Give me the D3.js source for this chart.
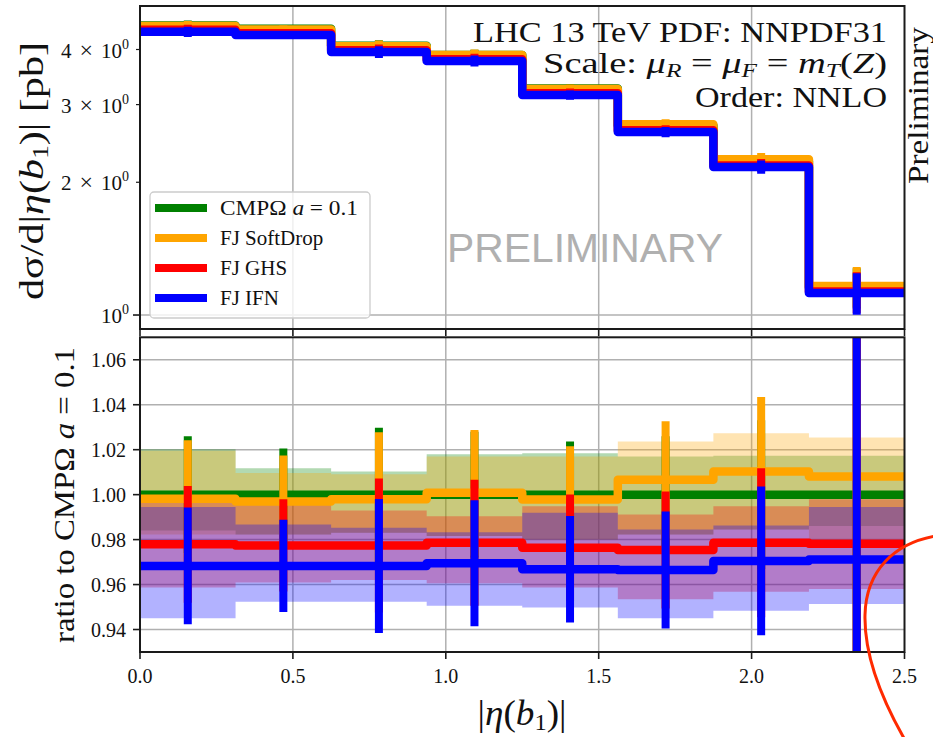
<!DOCTYPE html>
<html>
<head>
<meta charset="utf-8">
<script src="https://cdn.jsdelivr.net/npm/d3@7"></script>
<style>
  html, body { margin: 0; padding: 0; background: #fff; }
  svg { display: block; }
  text { font-family: "Liberation Serif", "Times New Roman", serif; fill: #111; }
</style>
</head>
<body>
<svg id="chart" width="933" height="737"></svg>
<script>
// ---------------- DATA ----------------
const binEdges = [0, 0.3125, 0.625, 0.9375, 1.25, 1.5625, 1.875, 2.1875, 2.5];
const seriesNames = ["CMPΩ a = 0.1", "FJ SoftDrop", "FJ GHS", "FJ IFN"];
const seriesColors = ["#008000", "#ffa500", "#ff0000", "#0000ff"];

// differential cross section [pb]
const xsCMP      = [4.533, 4.455, 4.077, 3.886, 3.262, 2.690, 2.232, 1.155];
const xsSoftDrop = [4.525, 4.441, 4.069, 3.889, 3.255, 2.708, 2.255, 1.164];
const xsGHS      = [4.433, 4.354, 3.985, 3.803, 3.185, 2.624, 2.184, 1.130];
const xsIFN      = [4.389, 4.314, 3.948, 3.767, 3.154, 2.600, 2.166, 1.122];
const xsErr      = [0.118, 0.091, 0.122, 0.109, 0.077, 0.070, 0.074, 0.121];

// ratio to CMPΩ a = 0.1
const ratioCMP      = [1.0000, 1.0000, 1.0000, 1.0000, 1.0000, 1.0000, 1.0000, 1.0000];
const ratioSoftDrop = [0.9982, 0.9969, 0.9980, 1.0008, 0.9978, 1.0066, 1.0103, 1.0081];
const ratioGHS      = [0.9779, 0.9774, 0.9774, 0.9786, 0.9764, 0.9754, 0.9786, 0.9782];
const ratioIFN      = [0.9683, 0.9683, 0.9683, 0.9695, 0.9668, 0.9665, 0.9705, 0.9712];
const ratioErr      = [0.0260, 0.0205, 0.0298, 0.0280, 0.0237, 0.0260, 0.0331, 0.1050];

// scale-variation bands in the ratio panel
const bandCMPLo      = [0.9840, 0.9823, 0.9830, 0.9816, 0.9800, 0.9823, 0.9845, 0.9860];
const bandCMPHi      = [1.0202, 1.0118, 1.0103, 1.0180, 1.0184, 1.0170, 1.0173, 1.0173];
const bandSoftDropLo = [0.9823, 0.9823, 0.9830, 0.9816, 0.9800, 0.9823, 0.9845, 0.9800];
const bandSoftDropHi = [1.0195, 1.0096, 1.0091, 1.0170, 1.0170, 1.0236, 1.0273, 1.0254];
const bandGHSLo      = [0.9587, 0.9609, 0.9620, 0.9606, 0.9587, 0.9535, 0.9568, 0.9580];
const bandGHSHi      = [0.9963, 0.9980, 0.9930, 0.9904, 0.9948, 0.9912, 0.9948, 0.9980];
const bandIFNLo      = [0.9450, 0.9523, 0.9523, 0.9506, 0.9498, 0.9450, 0.9484, 0.9513];
const bandIFNHi      = [0.9945, 0.9867, 0.9853, 0.9833, 0.9919, 0.9845, 0.9863, 0.9945];

const xTicks = [0.0, 0.5, 1.0, 1.5, 2.0, 2.5];
const xTickLabels = ["0.0", "0.5", "1.0", "1.5", "2.0", "2.5"];
const topMajorTicks = [1];
const topMinorTicks = [2, 3, 4];
const topMinorLabels = ["2", "3", "4"];
const ratioTicks = [0.94, 0.96, 0.98, 1.00, 1.02, 1.04, 1.06];
const ratioTickLabels = ["0.94", "0.96", "0.98", "1.00", "1.02", "1.04", "1.06"];

// ---------------- LAYOUT ----------------
const L = 140, R = 904.5;
const topT = 6, topB = 329;
const botT = 337.3, botB = 652;
const LW = 8.5;

const svg = d3.select("#chart");
svg.append("rect").attr("width", 933).attr("height", 737).attr("fill", "#fff");

const x = d3.scaleLinear().domain([0, 2.5]).range([L, R]);
const yTop = d3.scaleLog().domain([0.9296, 5.02]).range([topB, topT]);
const yBot = d3.scaleLinear().domain([0.93, 1.07]).range([botB, botT]);

const defs = svg.append("defs");
defs.append("clipPath").attr("id", "clipTop").append("rect")
  .attr("x", L).attr("y", topT).attr("width", R - L).attr("height", topB - topT);
defs.append("clipPath").attr("id", "clipBot").append("rect")
  .attr("x", L).attr("y", botT).attr("width", R - L).attr("height", botB - botT);

const gridColor = "#b0b0b0";

// ---------------- GRID ----------------
const gTopGrid = svg.append("g");
gTopGrid.selectAll("line.v").data(xTicks.slice(1, -1)).join("line")
  .attr("x1", d => x(d)).attr("x2", d => x(d)).attr("y1", topT).attr("y2", topB)
  .attr("stroke", gridColor).attr("stroke-width", 1.5);
gTopGrid.selectAll("line.h").data(topMajorTicks).join("line")
  .attr("x1", L).attr("x2", R).attr("y1", d => yTop(d)).attr("y2", d => yTop(d))
  .attr("stroke", gridColor).attr("stroke-width", 1.5);

const gBotGrid = svg.append("g");
gBotGrid.selectAll("line.v").data(xTicks.slice(1, -1)).join("line")
  .attr("x1", d => x(d)).attr("x2", d => x(d)).attr("y1", botT).attr("y2", botB)
  .attr("stroke", gridColor).attr("stroke-width", 1.5);
gBotGrid.selectAll("line.h").data(ratioTicks).join("line")
  .attr("x1", L).attr("x2", R).attr("y1", d => yBot(d)).attr("y2", d => yBot(d))
  .attr("stroke", gridColor).attr("stroke-width", 1.5);

// ---------------- HELPERS ----------------
function stepPoints(vals) {
  const pts = [];
  vals.forEach((v, i) => { pts.push([binEdges[i], v]); pts.push([binEdges[i + 1], v]); });
  return pts;
}
const centers = binEdges.slice(0, -1).map((e, i) => (e + binEdges[i + 1]) / 2);

// ---------------- BANDS (ratio panel) ----------------
const bands = [
  [bandCMPLo, bandCMPHi], [bandSoftDropLo, bandSoftDropHi],
  [bandGHSLo, bandGHSHi], [bandIFNLo, bandIFNHi]
];
const gBands = svg.append("g").attr("clip-path", "url(#clipBot)");
bands.forEach((b, s) => {
  const pts = [];
  b[0].forEach((lo, i) => {
    pts.push({ x: binEdges[i], lo: lo, hi: b[1][i] });
    pts.push({ x: binEdges[i + 1], lo: lo, hi: b[1][i] });
  });
  const area = d3.area().x(d => x(d.x)).y0(d => yBot(d.lo)).y1(d => yBot(d.hi));
  gBands.append("path").attr("d", area(pts))
    .attr("fill", seriesColors[s]).attr("fill-opacity", 0.3).attr("stroke", "none");
});

// ---------------- LINES + ERRORBARS ----------------
const topSeries = [xsCMP, xsSoftDrop, xsGHS, xsIFN];
const ratioSeries = [ratioCMP, ratioSoftDrop, ratioGHS, ratioIFN];

const gTop = svg.append("g").attr("clip-path", "url(#clipTop)");
const gBot = svg.append("g").attr("clip-path", "url(#clipBot)");

const lineTop = d3.line().x(d => x(d[0])).y(d => yTop(d[1]));
const lineBot = d3.line().x(d => x(d[0])).y(d => yBot(d[1]));

topSeries.forEach((vals, s) => {
  gTop.append("path").attr("d", lineTop(stepPoints(vals)))
    .attr("fill", "none").attr("stroke", seriesColors[s]).attr("stroke-width", LW)
    .attr("stroke-linejoin", "round");
  gTop.selectAll(null).data(vals).join("line")
    .attr("x1", (d, i) => x(centers[i])).attr("x2", (d, i) => x(centers[i]))
    .attr("y1", (d, i) => yTop(d - xsErr[i])).attr("y2", (d, i) => yTop(d + xsErr[i]))
    .attr("stroke", seriesColors[s]).attr("stroke-width", 8);
});

ratioSeries.forEach((vals, s) => {
  gBot.append("path").attr("d", lineBot(stepPoints(vals)))
    .attr("fill", "none").attr("stroke", seriesColors[s]).attr("stroke-width", LW)
    .attr("stroke-linejoin", "round");
  gBot.selectAll(null).data(vals).join("line")
    .attr("x1", (d, i) => x(centers[i])).attr("x2", (d, i) => x(centers[i]))
    .attr("y1", (d, i) => yBot(d - ratioErr[i])).attr("y2", (d, i) => yBot(d + ratioErr[i]))
    .attr("stroke", seriesColors[s]).attr("stroke-width", 8);
});

// ---------------- SPINES + TICKS ----------------
const spine = "#1a1a1a";
svg.append("rect").attr("x", L).attr("y", topT).attr("width", R - L).attr("height", topB - topT)
  .attr("fill", "none").attr("stroke", spine).attr("stroke-width", 2);
svg.append("rect").attr("x", L).attr("y", botT).attr("width", R - L).attr("height", botB - botT)
  .attr("fill", "none").attr("stroke", spine).attr("stroke-width", 2);

[topB, botB].forEach(yy => {
  svg.append("g").selectAll("line").data(xTicks).join("line")
    .attr("x1", d => x(d)).attr("x2", d => x(d)).attr("y1", yy).attr("y2", yy + 7)
    .attr("stroke", spine).attr("stroke-width", 1.6);
});
svg.append("g").selectAll("text").data(xTicks).join("text")
  .attr("x", d => x(d)).attr("y", 683).attr("text-anchor", "middle")
  .attr("font-size", 20).text((d, i) => xTickLabels[i]);

svg.append("g").selectAll("line").data(topMajorTicks).join("line")
  .attr("x1", L - 7).attr("x2", L).attr("y1", d => yTop(d)).attr("y2", d => yTop(d))
  .attr("stroke", spine).attr("stroke-width", 1.6);
svg.append("g").selectAll("line").data(topMinorTicks).join("line")
  .attr("x1", L - 4).attr("x2", L).attr("y1", d => yTop(d)).attr("y2", d => yTop(d))
  .attr("stroke", spine).attr("stroke-width", 1.2);

function sciLabel(sel, mant) {
  const t = sel.append("text").attr("text-anchor", "end").attr("font-size", 21);
  if (mant) {
    t.append("tspan").text(mant);
    t.append("tspan").attr("dx", 8).attr("font-size", 24).text("\u00D7");
    t.append("tspan").attr("dx", 8).text("10");
  } else {
    t.append("tspan").text("10");
  }
  t.append("tspan").attr("font-size", 14).attr("dy", -9).text("0");
  return t;
}
topMajorTicks.forEach(v => {
  sciLabel(svg, null).attr("x", 129).attr("y", yTop(v) + 8);
});
topMinorTicks.forEach((v, i) => {
  sciLabel(svg, topMinorLabels[i]).attr("x", 129).attr("y", yTop(v) + 8);
});

svg.append("g").selectAll("line").data(ratioTicks).join("line")
  .attr("x1", L - 7).attr("x2", L).attr("y1", d => yBot(d)).attr("y2", d => yBot(d))
  .attr("stroke", spine).attr("stroke-width", 1.6);
svg.append("g").selectAll("text").data(ratioTicks).join("text")
  .attr("x", 126).attr("y", d => yBot(d) + 7).attr("text-anchor", "end")
  .attr("font-size", 20).text((d, i) => ratioTickLabels[i]);

// ---------------- RICH TEXT HELPER ----------------
function rich(t, parts, fs) {
  parts.forEach(p => {
    const ts = t.append("tspan").text(p.t);
    if (p.it) ts.attr("font-style", "italic");
    if (p.sub) { ts.attr("font-size", fs * 0.66).attr("dy", fs * 0.14); }
    if (p.after) ts.attr("dy", -fs * 0.14);
  });
  return t;
}

rich(svg.append("text").attr("transform", "translate(43,171) rotate(-90)")
  .attr("text-anchor", "middle").attr("font-size", 34).attr("textLength", 258)
  .attr("lengthAdjust", "spacingAndGlyphs"),
  [{ t: "dσ/d|" }, { t: "η", it: 1 }, { t: "(" }, { t: "b", it: 1 }, { t: "1", sub: 1 },
   { t: ")| [pb]", after: 1 }], 34);

rich(svg.append("text").attr("transform", "translate(74,495) rotate(-90)")
  .attr("text-anchor", "middle").attr("font-size", 29).attr("textLength", 296)
  .attr("lengthAdjust", "spacingAndGlyphs"),
  [{ t: "ratio to CMPΩ " }, { t: "a", it: 1 }, { t: " = 0.1" }], 29);

rich(svg.append("text").attr("x", 522).attr("y", 725)
  .attr("text-anchor", "middle").attr("font-size", 36).attr("textLength", 89)
  .attr("lengthAdjust", "spacingAndGlyphs"),
  [{ t: "|" }, { t: "η", it: 1 }, { t: "(" }, { t: "b", it: 1 }, { t: "1", sub: 1 },
   { t: ")|", after: 1 }], 36);

// header text
svg.append("text").attr("x", 887).attr("y", 42).attr("text-anchor", "end")
  .attr("font-size", 29).attr("textLength", 414).attr("lengthAdjust", "spacingAndGlyphs")
  .text("LHC 13 TeV PDF: NNPDF31");
rich(svg.append("text").attr("x", 887).attr("y", 73).attr("text-anchor", "end")
  .attr("font-size", 29).attr("textLength", 344).attr("lengthAdjust", "spacingAndGlyphs"),
  [{ t: "Scale: " }, { t: "μ", it: 1 }, { t: "R", it: 1, sub: 1 }, { t: " = ", after: 1 },
   { t: "μ", it: 1 }, { t: "F", it: 1, sub: 1 }, { t: " = ", after: 1 },
   { t: "m", it: 1 }, { t: "T", it: 1, sub: 1 }, { t: "(", after: 1 }, { t: "Z", it: 1 }, { t: ")" }], 29);
svg.append("text").attr("x", 887).attr("y", 107).attr("text-anchor", "end")
  .attr("font-size", 29).attr("textLength", 192).attr("lengthAdjust", "spacingAndGlyphs")
  .text("Order: NNLO");

// watermark
svg.append("text").attr("x", 585).attr("y", 262).attr("text-anchor", "middle")
  .style("font-family", "'Liberation Sans', Arial, sans-serif")
  .attr("font-size", 41).attr("textLength", 276).attr("lengthAdjust", "spacingAndGlyphs")
  .style("fill", "#b0b0b0").text("PRELIMINARY");

// side label
svg.append("text").attr("transform", "translate(928,184) rotate(-90)")
  .attr("text-anchor", "start").attr("font-size", 30).attr("textLength", 157)
  .attr("lengthAdjust", "spacingAndGlyphs").text("Preliminary");

// ---------------- LEGEND ----------------
const leg = svg.append("g");
leg.append("rect").attr("x", 150).attr("y", 192).attr("width", 220).attr("height", 126)
  .attr("rx", 4).attr("fill", "#fff").attr("fill-opacity", 0.8)
  .attr("stroke", "#cccccc").attr("stroke-width", 1.3);
const legRows = [208, 238, 268, 298];
seriesNames.forEach((n, i) => {
  leg.append("line").attr("x1", 155).attr("x2", 207).attr("y1", legRows[i]).attr("y2", legRows[i])
    .attr("stroke", seriesColors[i]).attr("stroke-width", 8);
  const t = leg.append("text").attr("x", 220).attr("y", legRows[i] + 7).attr("font-size", 21);
  if (i === 0) rich(t, [{ t: "CMPΩ " }, { t: "a", it: 1 }, { t: " = 0.1" }], 21)
    .attr("textLength", 138).attr("lengthAdjust", "spacingAndGlyphs");
  else t.text(n);
});

// ---------------- ANNOTATION STROKE ----------------
svg.append("path")
  .attr("d", "M936,536 C895,543 866,570 865,615 C864,660 885,705 905,740")
  .attr("fill", "none").attr("stroke", "#ff2a00").attr("stroke-width", 3);
</script>
</body>
</html>
